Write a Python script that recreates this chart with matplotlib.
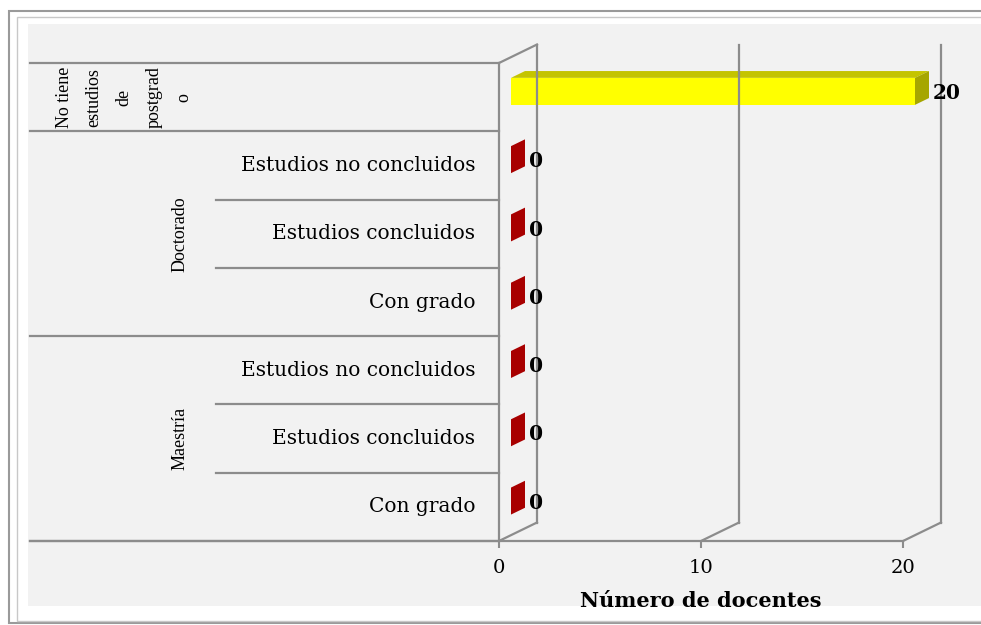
import matplotlib.pyplot as plt
from matplotlib.patches import Rectangle, Polygon

# data (bottom to top)
groups = ["Maestría", "Doctorado", "No tiene estudios de postgrado"]
sub_labels = ["Con grado", "Estudios concluidos", "Estudios no concluidos",
              "Con grado", "Estudios concluidos", "Estudios no concluidos", ""]
values = [0, 0, 0, 0, 0, 0, 20]
xticks = [0, 10, 20]
xlabel = "Número de docentes"

W, H = 981, 625
fig = plt.figure(figsize=(W / 100, H / 100), dpi=100)
fig.patch.set_facecolor("white")

def fx(px):
    return px / W

def fy(py):
    return 1 - py / H

# outer frame like the pasted picture
fig.patches.append(Rectangle((fx(9), fy(623)), fx(990) - fx(9), fy(11) - fy(623),
                             transform=fig.transFigure, facecolor="white",
                             edgecolor="#9a9a9a", lw=1.5, zorder=-3))
fig.patches.append(Rectangle((fx(17), fy(621)), fx(990) - fx(17), fy(17) - fy(621),
                             transform=fig.transFigure, facecolor="white",
                             edgecolor="#c8c8c8", lw=1, zorder=-2))
fig.patches.append(Rectangle((fx(28), fy(606)), fx(990) - fx(28), fy(24) - fy(606),
                             transform=fig.transFigure, facecolor="#f2f2f2",
                             edgecolor="none", zorder=-1))

# front plane of the plot: x 0..20 -> px 499..903, rows -> px 541..63
ax = fig.add_axes([fx(499), fy(541), fx(903) - fx(499), fy(63) - fy(541)])
ax.set_facecolor("none")
ax.set_xlim(0, 20)
ax.set_ylim(-0.5, 6.5)
for s in ax.spines.values():
    s.set_visible(False)

pxx = 20 / (903 - 499)      # data units per pixel, x
pxy = 7 / (541 - 63)        # data units per pixel, y

grid_c = "#8c8c8c"
glw = 1.6
# depth of the 3d box
dx, dy = 38 * pxx, 18.5 * pxy

# back wall gridlines and floor diagonals
for t in xticks:
    ax.plot([t + dx, t + dx], [-0.5 + dy, 6.5 + dy], color=grid_c, lw=glw, clip_on=False)
    ax.plot([t, t + dx], [-0.5, -0.5 + dy], color=grid_c, lw=glw, clip_on=False)
# side wall
ax.plot([0, 0], [-0.5, 6.5], color=grid_c, lw=glw, clip_on=False)
ax.plot([0, dx], [6.5, 6.5 + dy], color=grid_c, lw=glw, clip_on=False)
# front floor edge
left_px = (30 - 499) * pxx
ax.plot([left_px, 20], [-0.5, -0.5], color=grid_c, lw=glw, clip_on=False)

# category separators
sub_left = (216 - 499) * pxx
for yb in [-0.5, 0.5, 1.5, 2.5, 3.5, 4.5, 5.5, 6.5]:
    if yb in (0.5, 1.5, 3.5, 4.5):
        x0 = sub_left
    else:
        x0 = left_px
    ax.plot([x0, 0], [yb, yb], color=grid_c, lw=glw, clip_on=False)

ax.set_xticks(xticks)
ax.set_xticklabels([str(t) for t in xticks], family="DejaVu Serif", fontsize=14)
ax.tick_params(axis="x", length=5, width=1.5, color=grid_c, pad=8)
ax.set_yticks([])
ax.set_xlabel(xlabel, family="DejaVu Serif", fontsize=15, fontweight="bold", labelpad=10)

# 3d bars
off_x, off_y = 12 * pxx, 5.8 * pxy
bdx, bdy = 14 * pxx, 6.8 * pxy
bh = 27 * pxy
for i, v in enumerate(values):
    x0 = off_x
    yc = i + off_y
    yb, yt = yc - bh / 2, yc + bh / 2
    if v > 0:
        front, top, side = "#ffff00", "#c4c400", "#a6a600"
        ax.barh(yc, v, height=bh, left=x0, color=front, clip_on=False)
        ax.add_patch(Polygon([(x0, yt), (x0 + v, yt), (x0 + v + bdx, yt + bdy), (x0 + bdx, yt + bdy)],
                             closed=True, facecolor=top, edgecolor="none", clip_on=False))
    else:
        side = "#a80000"
    ax.add_patch(Polygon([(x0 + v, yb), (x0 + v, yt), (x0 + v + bdx, yt + bdy), (x0 + v + bdx, yb + bdy)],
                         closed=True, facecolor=side, edgecolor="none", clip_on=False))
    ax.text(v + 30 * pxx, i + 0.06, str(v), family="DejaVu Serif", fontsize=14.5,
            fontweight="bold", ha="left", va="center", clip_on=False)

# category labels
for i, lab in enumerate(sub_labels):
    if lab:
        ax.text((475 - 499) * pxx, i, lab, family="DejaVu Serif", fontsize=14.5,
                ha="right", va="center", clip_on=False)
ax.text((180 - 499) * pxx, 1, groups[0], family="Liberation Serif", fontsize=13,
        rotation=90, ha="center", va="center", clip_on=False)
ax.text((180 - 499) * pxx, 4, groups[1], family="Liberation Serif", fontsize=13,
        rotation=90, ha="center", va="center", clip_on=False)
ax.text((124 - 499) * pxx, 6, "No tiene\nestudios\nde\npostgrad\no", family="Liberation Serif",
        fontsize=13, rotation=90, ha="center", va="center", multialignment="center",
        linespacing=2.0, clip_on=False)

fig.savefig("out.png", dpi=100)
